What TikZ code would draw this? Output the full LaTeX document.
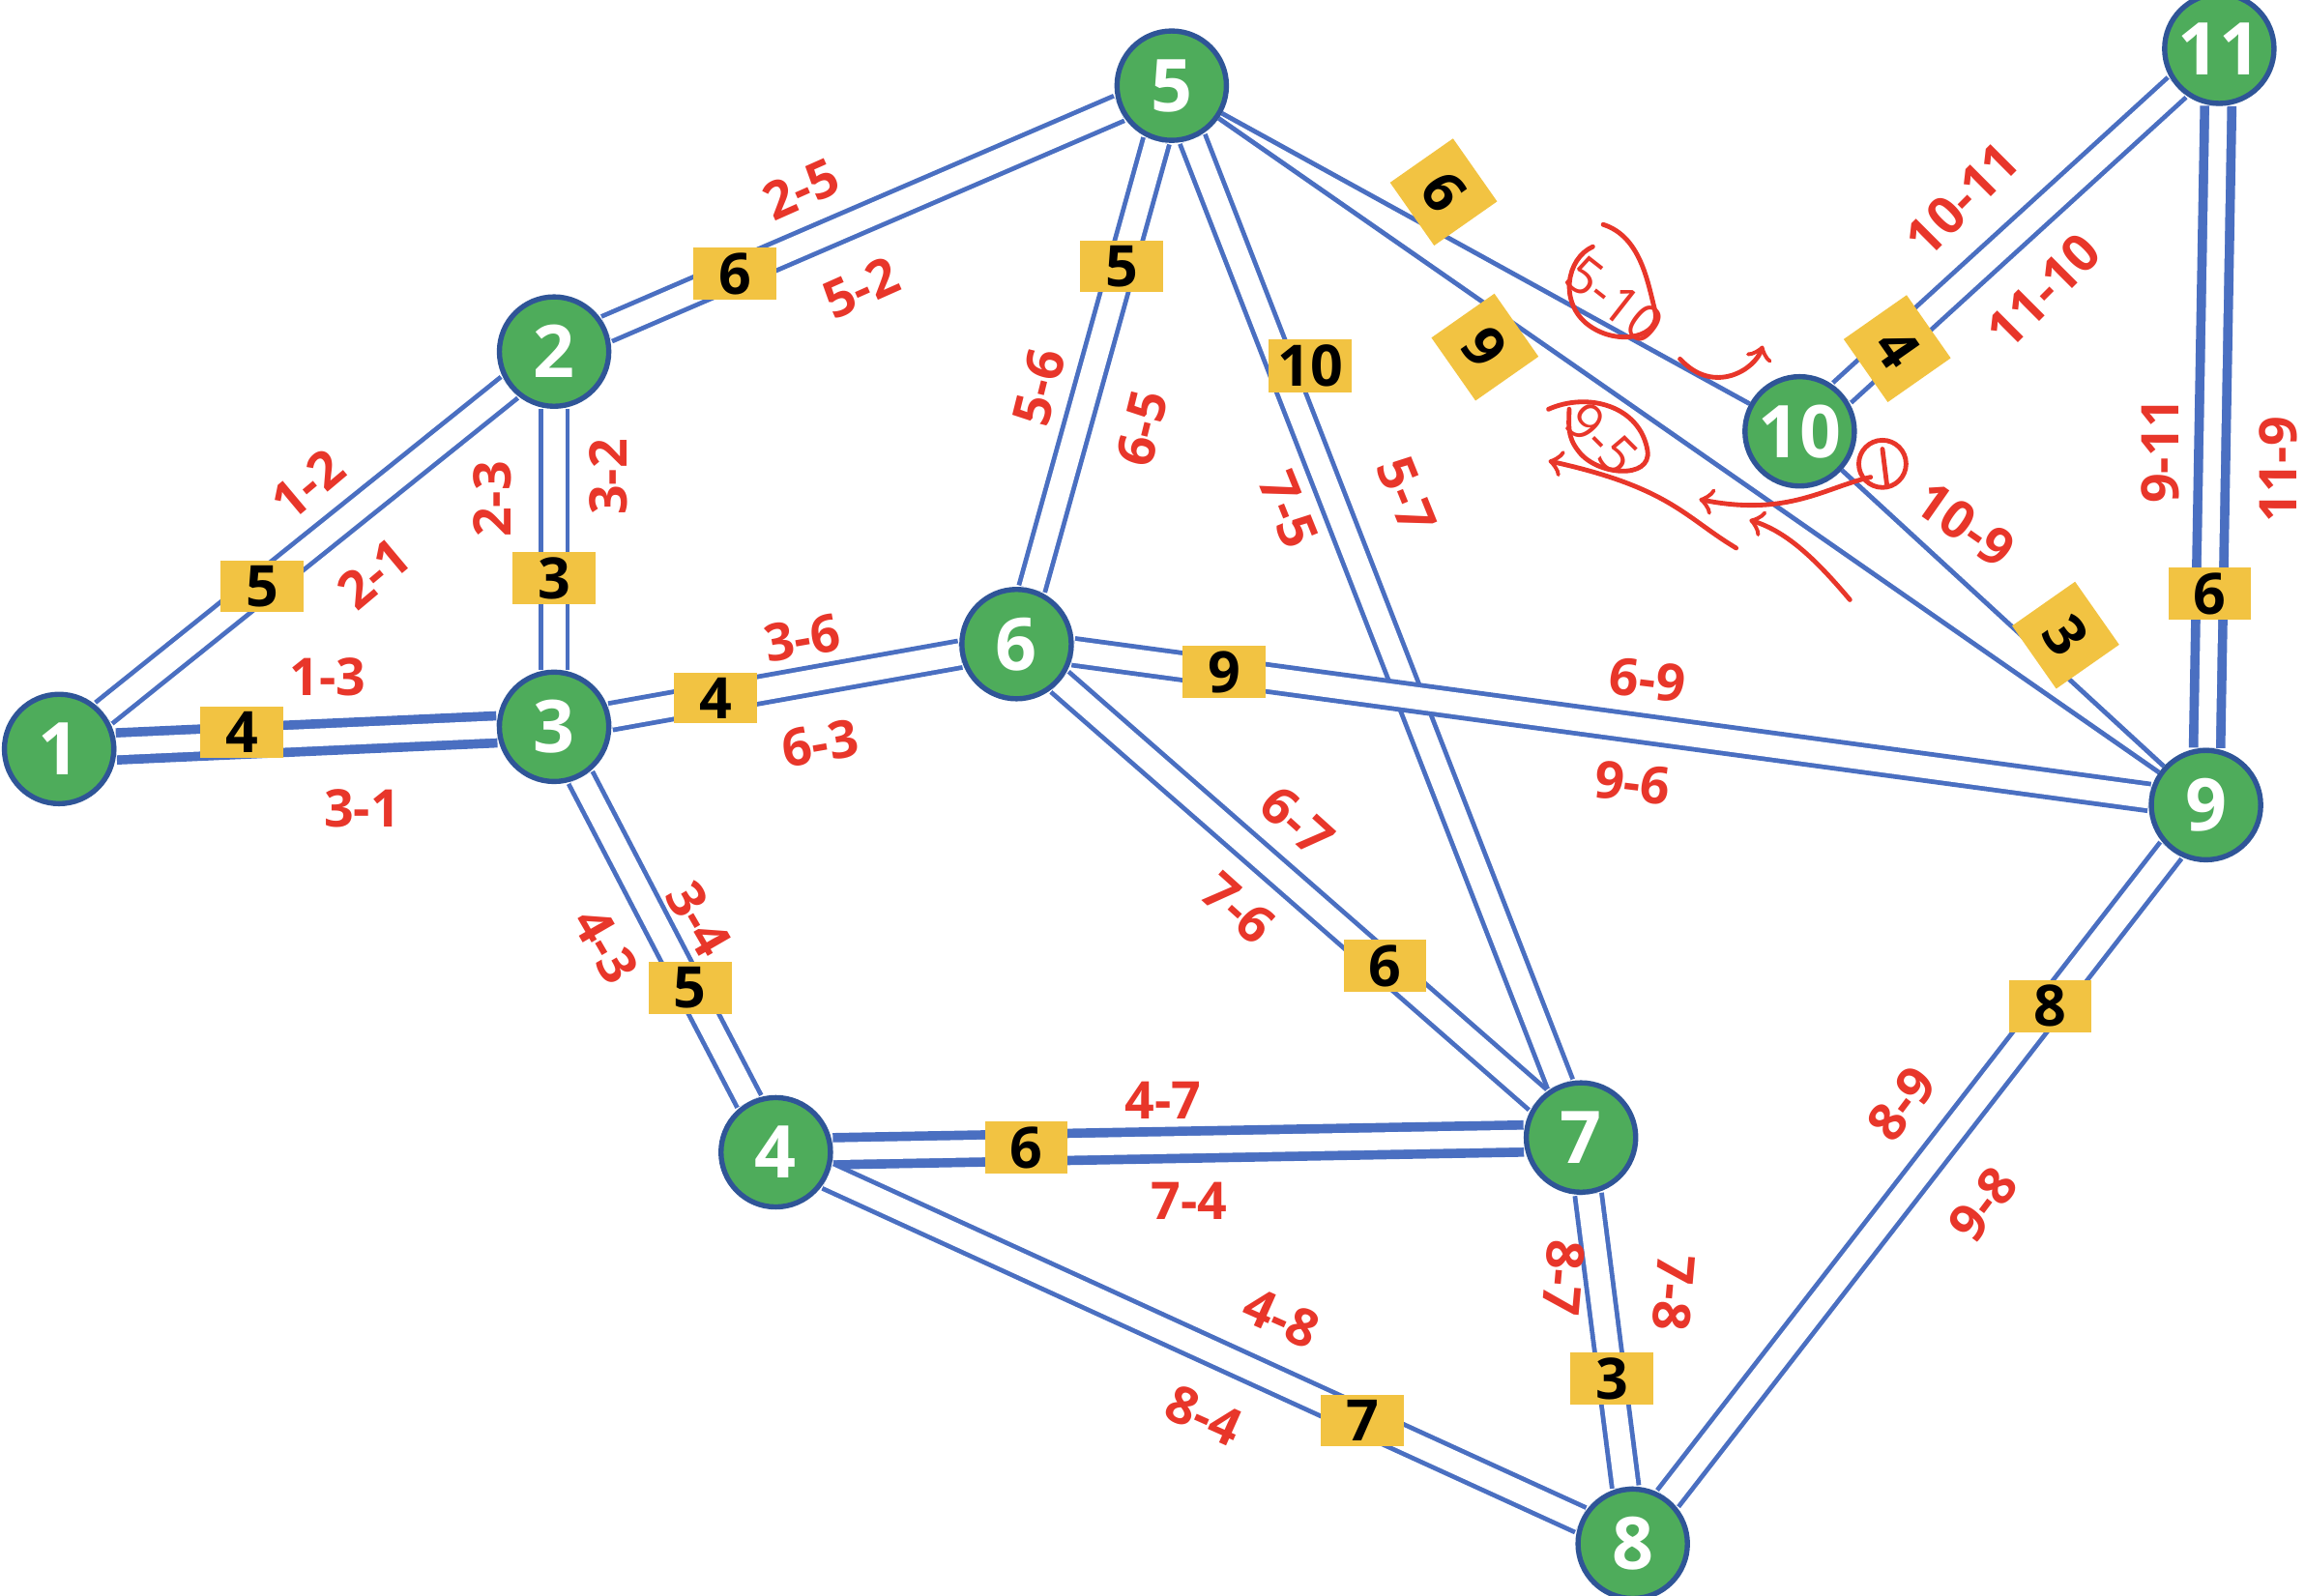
\documentclass[tikz,border=0pt]{standalone}
\usepackage{fontspec}
\setmainfont{Open Sans}
\usetikzlibrary{backgrounds}
\definecolor{vgreen}{HTML}{4EAC5B}
\definecolor{vblue}{HTML}{4A6FC1}
\definecolor{vedge}{HTML}{2F5597}
\definecolor{wgold}{HTML}{F2C342}
\definecolor{lred}{HTML}{E8362A}
\tikzset{
  vertex/.style={circle,fill=vgreen,draw=vedge,line width=1pt,minimum size=0.74cm,inner sep=0pt,
    text=white,font=\fontsize{14}{14}\selectfont\bfseries},
  road/.style={draw=vblue,line width=0.9pt,double=white,double distance=0.15cm},
  bigroad/.style={draw=vblue,line width=1.8pt,double=white,double distance=0.12cm},
  oneway/.style={draw=vblue,line width=0.9pt},
  weight/.style={fill=wgold,minimum width=0.56cm,minimum height=0.33cm,inner sep=1pt,
    font=\fontsize{11}{11}\selectfont\bfseries},
  bigweight/.style={weight,minimum width=0.52cm,minimum height=0.52cm,rotate=-55},
  lab/.style={text=lred,font=\fontsize{10}{10}\selectfont\bfseries},
  scrib/.style={draw=lred,line width=0.9pt,line cap=round}
}
\begin{document}
\begin{tikzpicture}[x=0.01cm,y=-0.01cm]
\useasboundingbox (0,0) rectangle (1560,1080);
% junctions
\node[vertex] (n1) at (40,507) {1};
\node[vertex] (n2) at (375,238) {2};
\node[vertex] (n3) at (375,492) {3};
\node[vertex] (n4) at (525,780) {4};
\node[vertex] (n5) at (793,58) {5};
\node[vertex] (n6) at (688,436) {6};
\node[vertex] (n7) at (1070,770) {7};
\node[vertex] (n8) at (1105,1045) {8};
\node[vertex] (n9) at (1493,545) {9};
\node[vertex] (n10) at (1218,292) {10};
\node[vertex] (n11) at (1502,33) {11};
% roads with their weights
\begin{scope}[on background layer]
  \draw[road] (n1) -- node[weight,pos=.39] {5} (n2);
  \draw[bigroad] (n1) -- node[weight,pos=.33,yshift=0.06cm] {4} (n3);
  \draw[road] (n2) -- node[weight,pos=.25] {6} (n5);
  \draw[road] (n2) -- node[weight,pos=.65] {3} (n3);
  \draw[road] (n3) -- node[weight,pos=.3] {4} (n6);
  \draw[road] (n3) -- node[weight,pos=.65] {5} (n4);
  \draw[road] (n5) -- node[weight,pos=.28] {5} (n6);
  \draw[road] (n5) -- node[weight,pos=.24,xshift=0.2cm] {10} (n7);
  \draw[road] (n6) -- node[weight,pos=.14] {9} (n9);
  \draw[road] (n6) -- node[weight,pos=.68] {6} (n7);
  \draw[bigroad] (n4) -- node[weight,pos=.28] {6} (n7);
  \draw[road] (n4) -- node[weight,pos=.71] {7} (n8);
  \draw[road] (n7) -- node[weight,pos=.63] {3} (n8);
  \draw[road] (n9) -- node[weight,pos=.24] {8} (n8);
  \draw[bigroad] (n11) -- node[weight,pos=.76] {6} (n9);
  \draw[road] (n10) -- (n11);
  \draw[oneway] (n5) -- (n10);
  \draw[oneway] (n5) -- (n9);
  \draw[oneway] (n10) -- (n9);
\end{scope}
\node[bigweight] (w1011) at (1284,236) {4};
\node[bigweight] (w510) at (977,130) {6};
\node[bigweight] (w59) at (1005,235) {9};
\node[bigweight] (w109) at (1398,430) {3};
% lane labels
\node[lab,rotate=40] at (208,328) {1-2};
\node[lab,rotate=40] at (253,388) {2-1};
\node[lab] at (222,458) {1-3};
\node[lab] at (245,547) {3-1};
\node[lab,rotate=24] at (542,128) {2-5};
\node[lab,rotate=24] at (583,195) {5-2};
\node[lab,rotate=90] at (333,338) {2-3};
\node[lab,rotate=90] at (412,323) {3-2};
\node[lab,rotate=10] at (543,432) {3-6};
\node[lab,rotate=10] at (555,503) {6-3};
\node[lab,rotate=-60] at (473,622) {3-4};
\node[lab,rotate=-60] at (410,640) {4-3};
\node[lab,rotate=76] at (703,262) {5-6};
\node[lab,rotate=76] at (773,290) {6-5};
\node[lab,rotate=-68] at (872,345) {7-5};
\node[lab,rotate=-68] at (952,335) {5-7};
\node[lab,rotate=-7] at (1115,460) {6-9};
\node[lab,rotate=-7] at (1105,530) {9-6};
\node[lab,rotate=-42] at (878,556) {6-7};
\node[lab,rotate=-42] at (838,615) {7-6};
\node[lab] at (787,745) {4-7};
\node[lab] at (805,813) {7-4};
\node[lab,rotate=-24] at (867,892) {4-8};
\node[lab,rotate=-24] at (815,958) {8-4};
\node[lab,rotate=-95] at (1058,865) {8-7};
\node[lab,rotate=-95] at (1133,875) {7-8};
\node[lab,rotate=53] at (1287,747) {8-9};
\node[lab,rotate=53] at (1342,815) {9-8};
\node[lab,rotate=90] at (1462,305) {9-11};
\node[lab,rotate=90] at (1542,318) {11-9};
\node[lab,rotate=45] at (1328,135) {10-11};
\node[lab,rotate=45] at (1383,197) {11-10};
\node[lab,rotate=-38,font=\fontsize{10}{10}\selectfont] at (1093,203) {5-10};
\node[lab,rotate=-45,font=\fontsize{10}{10}\selectfont] at (1084,297) {9-5};
\node[lab,rotate=-35] at (1330,355) {10-9};
% hand-drawn marks
\draw[scrib] (1078,167) .. controls (1060,175) and (1055,205) .. (1075,220)
  .. controls (1095,235) and (1125,228) .. (1120,210)
  .. controls (1115,190) and (1110,160) .. (1085,152);
\draw[scrib] (1048,277) .. controls (1075,265) and (1110,275) .. (1115,305)
  .. controls (1118,325) and (1080,322) .. (1068,305) .. controls (1060,295) and (1062,285) .. (1062,277);
\draw[scrib,->] (1137,243) .. controls (1160,268) and (1188,250) .. (1193,234);
\draw[scrib] (1274,314) circle (16);
\draw[scrib] (1274,304) -- (1277,328);
\draw[scrib,->] (1266,323) .. controls (1235,330) and (1210,350) .. (1150,338);
\draw[scrib,->] (1252,406) .. controls (1230,380) and (1210,360) .. (1184,352);
\draw[scrib,->] (1175,371) .. controls (1140,350) and (1130,330) .. (1048,312);
\end{tikzpicture}
\end{document}
